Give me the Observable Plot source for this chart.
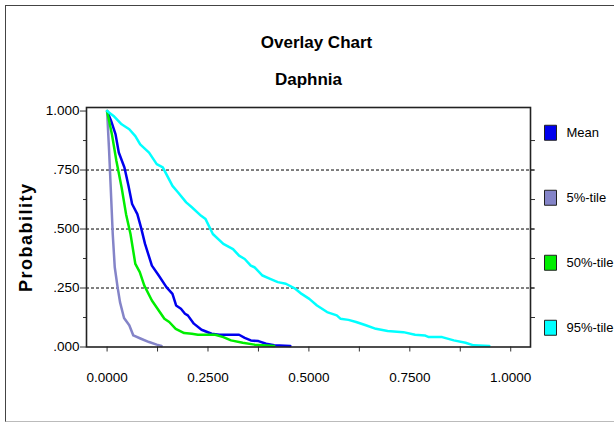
<!DOCTYPE html>
<html><head><meta charset="utf-8">
<script src="https://cdn.jsdelivr.net/npm/d3@7"></script>
<script src="https://cdn.jsdelivr.net/npm/@observablehq/plot@0.6"></script>
<style>
body{margin:0;background:#fff;}
#wrap{position:relative;width:614px;height:423px;overflow:hidden;background:#fff;}
#border{position:absolute;left:5px;top:5px;width:640px;height:415px;border-left:1.5px solid #444;border-top:1.5px solid #444;border-bottom:1.5px solid #bbb;pointer-events:none;}
</style></head><body><div id="wrap"><div id="border"></div></div>
<script>
const title = "Overlay Chart";
const subtitle = "Daphnia";
const yLabel = "Probability";
const series = ["Mean", "5%-tile", "50%-tile", "95%-tile"];
const colors = ["#0000ee", "#8484c8", "#00ee00", "#00ffff"];

const meanX = [0, 0.010, 0.021, 0.029, 0.043, 0.053, 0.062, 0.075, 0.084, 0.094, 0.111, 0.128, 0.147, 0.162, 0.171, 0.183, 0.193, 0.200, 0.215, 0.234, 0.259, 0.278, 0.327, 0.341, 0.356, 0.375, 0.394, 0.414, 0.454];
const meanY = [1, 0.958, 0.901, 0.824, 0.761, 0.683, 0.606, 0.563, 0.507, 0.437, 0.345, 0.303, 0.254, 0.225, 0.176, 0.162, 0.141, 0.134, 0.099, 0.073, 0.056, 0.052, 0.052, 0.039, 0.028, 0.025, 0.014, 0.007, 0.004];

const p5X = [0, 0.005, 0.009, 0.014, 0.019, 0.026, 0.032, 0.042, 0.055, 0.065, 0.084, 0.104, 0.123, 0.135];
const p5Y = [1, 0.831, 0.676, 0.479, 0.338, 0.254, 0.190, 0.123, 0.092, 0.049, 0.035, 0.021, 0.010, 0.004];

const p50X = [0, 0.012, 0.023, 0.036, 0.047, 0.058, 0.070, 0.081, 0.092, 0.111, 0.128, 0.142, 0.154, 0.170, 0.191, 0.210, 0.225, 0.268, 0.288, 0.307, 0.336, 0.365, 0.414];
const p50Y = [1, 0.901, 0.789, 0.676, 0.563, 0.479, 0.352, 0.317, 0.261, 0.197, 0.155, 0.120, 0.106, 0.077, 0.059, 0.056, 0.052, 0.052, 0.042, 0.028, 0.018, 0.010, 0.004];

const p95X = [0, 0.016, 0.036, 0.055, 0.070, 0.082, 0.104, 0.123, 0.138, 0.162, 0.176, 0.196, 0.210, 0.233, 0.244, 0.262, 0.288, 0.312, 0.327, 0.341, 0.356, 0.365, 0.385, 0.404, 0.423, 0.443, 0.467, 0.482, 0.501, 0.520, 0.545, 0.569, 0.578, 0.598, 0.617, 0.641, 0.666, 0.695, 0.734, 0.763, 0.787, 0.797, 0.830, 0.859, 0.888, 0.908, 0.947];
const p95Y = [1, 0.979, 0.944, 0.923, 0.894, 0.859, 0.824, 0.775, 0.761, 0.683, 0.655, 0.613, 0.592, 0.556, 0.542, 0.479, 0.437, 0.415, 0.387, 0.373, 0.345, 0.338, 0.303, 0.289, 0.275, 0.268, 0.246, 0.225, 0.204, 0.176, 0.148, 0.134, 0.120, 0.115, 0.106, 0.092, 0.077, 0.068, 0.063, 0.052, 0.049, 0.042, 0.042, 0.028, 0.018, 0.007, 0.004];

const xLabelTicks = [0, 0.25, 0.5, 0.75, 1];
const xMinorTicks = [0, 0.125, 0.25, 0.375, 0.5, 0.625, 0.75, 0.875, 1];
const yMajorTicks = [0, 0.25, 0.5, 0.75, 1];
const yMinorTicks = [0.125, 0.375, 0.625, 0.875];
const yRightTicks = [0.125, 0.25, 0.375, 0.5, 0.625, 0.75, 0.875];
const gridY = [0.25, 0.5, 0.75];

const xs = [meanX, p5X, p50X, p95X];
const ys = [meanY, p5Y, p50Y, p95Y];
const rows = [];
series.forEach((s, i) => xs[i].forEach((x, j) => rows.push({series: s, x, y: ys[i][j]})));

const rectSymbol = {draw(ctx) { ctx.moveTo(-6, -7.5); ctx.lineTo(6, -7.5); ctx.lineTo(6, 7.5); ctx.lineTo(-6, 7.5); ctx.closePath(); }};
const fmtY = d => d3.format(".3f")(d).replace(/^0/, "");

const legendMarks = [];
series.forEach((s, i) => {
  legendMarks.push(Plot.dot([s], {frameAnchor: "right", dx: 20, dy: -94.5 + i * 65, r: 6, symbol: rectSymbol, fill: colors[i], stroke: "#222", strokeWidth: 1}));
  legendMarks.push(Plot.text([s], {frameAnchor: "right", dx: 36, dy: -94 + i * 65, text: d => d, textAnchor: "start", fontSize: 13, fill: "#000"}));
});

const chart = Plot.plot({
  width: 614, height: 423,
  marginLeft: 86, marginRight: 84, marginTop: 107, marginBottom: 76.5,
  x: {domain: [-0.051, 1.049], axis: null},
  y: {domain: [0, 1.015], axis: null},
  color: {domain: series, range: colors},
  style: {fontFamily: "Arial, 'Liberation Sans', sans-serif", background: "transparent", overflow: "visible"},
  marks: [
    Plot.ruleY(gridY, {stroke: "#000", strokeDasharray: "3,2", strokeWidth: 1, insetRight: -4}),
    Plot.axisY(yMajorTicks, {anchor: "left", tickSize: 6, tickPadding: 1, tickFormat: fmtY, fontSize: 13.5, label: null, stroke: "#333", fill: "#000"}),
    Plot.axisY(yMinorTicks, {anchor: "left", tickSize: 3, tickFormat: () => "", label: null, stroke: "#333"}),
    Plot.axisY(yRightTicks, {anchor: "right", tickSize: 4, tickFormat: () => "", label: null, stroke: "#333"}),
    Plot.axisX(xMinorTicks, {anchor: "bottom", tickSize: 5, tickFormat: () => "", label: null, stroke: "#333"}),
    Plot.text(xLabelTicks, {x: d => d, frameAnchor: "bottom", dy: 30.5, lineAnchor: "middle", text: d3.format(".4f"), fontSize: 13.5, fill: "#000"}),
    Plot.line(rows, {x: "x", y: "y", z: "series", stroke: "series", strokeWidth: 2.5, strokeLinejoin: "round"}),
    Plot.frame({stroke: "#222", strokeWidth: 1.6}),
    Plot.text([title], {frameAnchor: "top", dx: 8, dy: -65, text: d => d, fontSize: 17, fontWeight: "bold", lineAnchor: "middle", fill: "#000"}),
    Plot.text([subtitle], {frameAnchor: "top", dy: -28, text: d => d, fontSize: 17, fontWeight: "bold", lineAnchor: "middle", fill: "#000"}),
    Plot.text([yLabel], {frameAnchor: "left", dx: -60.5, dy: 10, text: d => d, rotate: -90, textAnchor: "middle", lineAnchor: "middle", fontSize: 18, fontWeight: "bold", fill: "#000"}),
    ...legendMarks
  ]
});
d3.select(chart).selectAll("text").filter(function() { return this.textContent === yLabel; }).style("letter-spacing", "1.5px");
document.getElementById("wrap").insertBefore(chart, document.getElementById("border"));
</script>
</body></html>
